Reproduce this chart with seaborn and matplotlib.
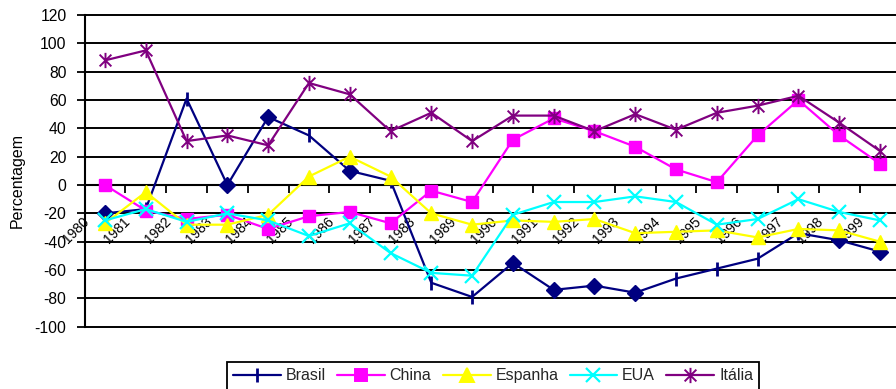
import numpy as np
import pandas as pd
import matplotlib
matplotlib.use("Agg")
import matplotlib.pyplot as plt
import matplotlib.transforms as mtransforms
from matplotlib.lines import Line2D
from matplotlib.path import Path
import seaborn as sns

# Annual percentage change by country, 1980-1999
years = [str(y) for y in range(1980, 2000)]
brasil = [-20, -17, 61, 0, 48, 35, 10, 3, -69, -79, -55, -74, -71, -76, -66, -59, -52, -34, -39, -47]
china = [0, -18, -24, -21, -31, -22, -19, -27, -4, -12, 32, 47, 38, 27, 11, 2, 35, 60, 35, 15]
espanha = [-27, -5, -28, -28, -21, 6, 20, 6, -20, -28, -25, -26, -24, -34, -33, -32, -37, -31, -32, -40]
eua = [-25, -17, -26, -20, -25, -36, -27, -48, -62, -64, -21, -12, -12, -8, -12, -28, -24, -10, -19, -25]
italia = [88, 95, 31, 35, 28, 72, 64, 38, 51, 31, 49, 49, 38, 50, 39, 51, 56, 63, 44, 24]

series_names = ["Brasil", "China", "Espanha", "EUA", "Itália"]
colors = ["#000080", "#FF00FF", "#FFFF00", "#00FFFF", "#800080"]

# Brasil points drawn with diamonds; the rest get a vertical tick
brasil_diamonds = [0, 3, 4, 6, 10, 11, 12, 13, 18, 19]
brasil_ticks = [i for i in range(len(years)) if i not in brasil_diamonds]

df = pd.DataFrame({
    "pos": np.arange(len(years)),
    "Brasil": brasil,
    "China": china,
    "Espanha": espanha,
    "EUA": eua,
    "Itália": italia,
})

sns.set_style("white")
plt.rcParams["font.family"] = ["Liberation Sans", "DejaVu Sans"]
plt.rcParams["axes.unicode_minus"] = False

fig = plt.figure(figsize=(8.96, 3.89), dpi=100)
W, H = 896.0, 389.0
x0, x1 = 84.6, 900.4
ytop, ybot = 15.0, 326.7
ax = fig.add_axes([x0 / W, 1 - ybot / H, (x1 - x0) / W, (ybot - ytop) / H])

# asterisk-style marker: an X crossed by a vertical bar
star = Path(
    [(-1, -1), (1, 1), (-1, 1), (1, -1), (0, -1.3), (0, 1.3)],
    [Path.MOVETO, Path.LINETO, Path.MOVETO, Path.LINETO, Path.MOVETO, Path.LINETO],
)

lw = 1.6
common = dict(data=df, x="pos", ax=ax, legend=False, estimator=None, linewidth=lw)

# Brasil: line with diamonds, then vertical ticks on the remaining points
sns.lineplot(y="Brasil", color=colors[0], marker="D", markevery=brasil_diamonds,
             markersize=8.5, markerfacecolor=colors[0], markeredgecolor=colors[0],
             markeredgewidth=1, zorder=3, **common)
sns.lineplot(y="Brasil", color=colors[0], marker="|", markevery=brasil_ticks,
             markersize=10, markeredgecolor=colors[0], markeredgewidth=2,
             linestyle="", zorder=3, **common)
sns.lineplot(y="China", color=colors[1], marker="s", markersize=8.5,
             markerfacecolor=colors[1], markeredgecolor=colors[1],
             markeredgewidth=1, zorder=4, **common)
sns.lineplot(y="Espanha", color=colors[2], marker="^", markersize=9.5,
             markerfacecolor=colors[2], markeredgecolor=colors[2],
             markeredgewidth=1, zorder=5, **common)
sns.lineplot(y="EUA", color=colors[3], marker="x", markersize=9.5,
             markeredgecolor=colors[3], markeredgewidth=1.6, zorder=6, **common)
sns.lineplot(y="Itália", color=colors[4], marker=star, markersize=11,
             markeredgecolor=colors[4], markeredgewidth=1.4, zorder=7, **common)

ax.set_xlabel("")
ax.set_ylabel("")
ax.set_xlim(-0.5, 19.5)
ax.set_ylim(-100, 120)

# horizontal grid
ax.set_yticks(range(-100, 121, 20))
ax.yaxis.grid(True, color="black", linewidth=1.4)
ax.xaxis.grid(False)
for gl in ax.get_ygridlines():
    gl.set_clip_on(False)
ax.set_axisbelow(True)

# spines: category axis crosses at zero
for side in ["top", "right"]:
    ax.spines[side].set_visible(False)
ax.spines["left"].set_color("black")
ax.spines["left"].set_linewidth(1.5)
ax.spines["bottom"].set_position(("data", 0))
ax.spines["bottom"].set_color("black")
ax.spines["bottom"].set_linewidth(1.5)

ax.tick_params(axis="y", left=True, length=6, width=1.3, color="black",
               direction="out", pad=7, labelsize=11.3, labelcolor="black")

ax.set_xticks(np.arange(len(years)))
ax.set_xticklabels(years, rotation=45, ha="right", va="top", fontsize=10)
ax.set_xticks(np.arange(0.5, 19.5, 1), minor=True)
ax.tick_params(axis="x", which="major", bottom=True, length=0, pad=21, labelcolor="black")
ax.tick_params(axis="x", which="minor", bottom=True, length=6, width=1.3,
               color="black", direction="out")
shift = mtransforms.ScaledTranslation(-13 / 100, 0, fig.dpi_scale_trans)
for lab in ax.get_xticklabels():
    lab.set_transform(lab.get_transform() + shift)

fig.text(17 / W, 1 - 180 / H, "Percentagem", rotation=90, ha="center", va="center",
         fontsize=11.5, color="black")

# legend
legend_markers = ["|", "s", "^", "x", star]
handles = []
for name, c, m in zip(series_names, colors, legend_markers):
    ms = {"|": 10, "s": 8.5, "^": 9.5, "x": 9.5}.get(m, 11) if isinstance(m, str) else 11
    mew = 2 if m == "|" else (1.6 if m == "x" else 1.4)
    handles.append(Line2D([], [], color=c, linewidth=lw, marker=m, markersize=ms,
                          markerfacecolor=c, markeredgecolor=c, markeredgewidth=mew))
leg = fig.legend(handles, series_names, loc="upper center",
                 bbox_to_anchor=(493 / W, 1 - 362 / H), ncol=5, fontsize=11.5,
                 frameon=True, fancybox=False, framealpha=1, edgecolor="black",
                 handlelength=3.0, handletextpad=0.3, columnspacing=0.7,
                 borderpad=0.4, borderaxespad=0)
leg.get_frame().set_linewidth(1.3)

fig.savefig("out.png", dpi=100)
